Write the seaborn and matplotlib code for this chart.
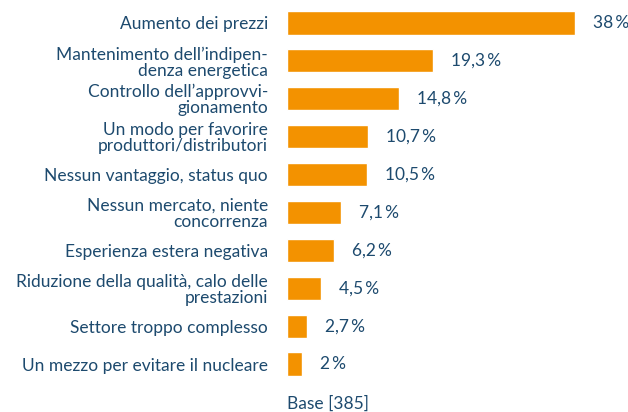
import matplotlib
matplotlib.use("Agg")
import matplotlib.pyplot as plt
import seaborn as sns
import pandas as pd

categories = [
    "Aumento dei prezzi",
    "Mantenimento dell\u2019indipen-\ndenza energetica",
    "Controllo dell\u2019approvvi-\ngionamento",
    "Un modo per favorire\nproduttori/distributori",
    "Nessun vantaggio, status quo",
    "Nessun mercato, niente\nconcorrenza",
    "Esperienza estera negativa",
    "Riduzione della qualit\u00e0, calo delle\nprestazioni",
    "Settore troppo complesso",
    "Un mezzo per evitare il nucleare",
]
values = [38, 19.3, 14.8, 10.7, 10.5, 7.1, 6.2, 4.5, 2.7, 2]
value_labels = ["38\u2009%", "19,3\u2009%", "14,8\u2009%", "10,7\u2009%", "10,5\u2009%",
                "7,1\u2009%", "6,2\u2009%", "4,5\u2009%", "2,7\u2009%", "2\u2009%"]
base_text = "Base [385]"

ORANGE = "#f39200"
NAVY = "#1d4a6e"
FS = 12.5

sns.set_theme(style="white")
plt.rcParams['font.family'] = ['Lato', 'DejaVu Sans']

df = pd.DataFrame({"cat": categories, "val": values})

W, H = 628, 412
fig = plt.figure(figsize=(W / 100, H / 100), dpi=100)
ax_left = 287 / W
ax_right = 628 / W
ax_top = 1 - 4 / H
ax_bottom = 1 - 383 / H
ax = fig.add_axes([ax_left, ax_bottom, ax_right - ax_left, ax_top - ax_bottom])

sns.barplot(data=df, x="val", y="cat", orient="h", color=ORANGE, width=0.61,
            saturation=1, ax=ax)
px_per_unit = 288 / 38
ax.set_xlim(0, (628 - 287) / px_per_unit)
ax.set_ylim(len(categories) - 0.5, -0.5)
for s in ax.spines.values():
    s.set_visible(False)
ax.set_xticks([])
ax.set_xlabel("")
ax.set_ylabel("")
ax.tick_params(axis="y", length=0, pad=19 * 0.72)
for lbl in ax.get_yticklabels():
    lbl.set_color(NAVY)
    lbl.set_fontsize(FS)
    lbl.set_ha("right")
    lbl.set_linespacing(1.0)

for i, (v, t) in enumerate(zip(values, value_labels)):
    ax.annotate(t, xy=(v, i), xytext=(18, 0), textcoords="offset pixels",
                ha="left", va="center", color=NAVY, fontsize=FS, clip_on=False)

fig.text(287 / W, 1 - 404 / H, base_text, ha="left", va="center", color=NAVY, fontsize=FS)

fig.savefig("out.png", dpi=100)
